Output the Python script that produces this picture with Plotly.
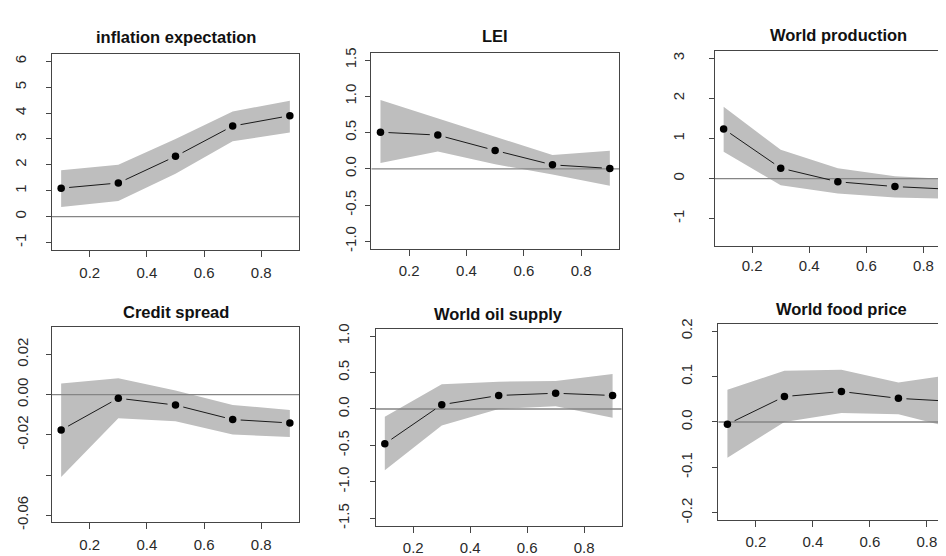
import plotly.graph_objects as go

W, H = 946, 556

# ---------------- data ----------------
tau = [0.1, 0.3, 0.5, 0.7, 0.9]

titles = ["inflation expectation", "LEI", "World production",
          "Credit spread", "World oil supply", "World food price"]

infl_est = [1.10, 1.30, 2.33, 3.50, 3.90]
infl_up = [1.79, 2.00, 3.00, 4.06, 4.48]
infl_lo = [0.37, 0.60, 1.66, 2.91, 3.25]

lei_est = [0.505, 0.465, 0.253, 0.054, 0.005]
lei_up = [0.95, 0.70, 0.45, 0.19, 0.25]
lei_lo = [0.08, 0.24, 0.063, -0.08, -0.235]

wprod_est = [1.24, 0.26, -0.08, -0.20, -0.27]
wprod_up = [1.79, 0.72, 0.26, 0.06, -0.02]
wprod_lo = [0.67, -0.17, -0.37, -0.47, -0.51]

credit_est = [-0.0176, -0.0018, -0.0052, -0.0124, -0.0141]
credit_up = [0.0055, 0.0081, 0.0020, -0.0052, -0.0076]
credit_lo = [-0.0410, -0.0117, -0.0133, -0.0198, -0.0211]

oil_est = [-0.477, 0.059, 0.185, 0.216, 0.185]
oil_up = [-0.108, 0.338, 0.374, 0.383, 0.48]
oil_lo = [-0.84, -0.225, 0.0, 0.036, -0.12]

food_est = [-0.005, 0.056, 0.067, 0.052, 0.045]
food_up = [0.071, 0.113, 0.115, 0.087, 0.105]
food_lo = [-0.079, 0.0, 0.020, 0.017, -0.015]

x_ticks = [0.2, 0.4, 0.6, 0.8]
x_ticklabels = ["0.2", "0.4", "0.6", "0.8"]

yt_infl = [-1, 0, 1, 2, 3, 4, 5, 6]
yl_infl = ["-1", "0", "1", "2", "3", "4", "5", "6"]
yt_lei = [-1.0, -0.5, 0.0, 0.5, 1.0, 1.5]
yl_lei = ["-1.0", "-0.5", "0.0", "0.5", "1.0", "1.5"]
yt_wprod = [-1, 0, 1, 2, 3]
yl_wprod = ["-1", "0", "1", "2", "3"]
yt_credit = [-0.06, -0.04, -0.02, 0.0, 0.02]
yl_credit = ["-0.06", "", "-0.02", "0.00", "0.02"]
yt_oil = [-1.5, -1.0, -0.5, 0.0, 0.5, 1.0]
yl_oil = ["-1.5", "-1.0", "-0.5", "0.0", "0.5", "1.0"]
yt_food = [-0.2, -0.1, 0.0, 0.1, 0.2]
yl_food = ["-0.2", "-0.1", "0.0", "0.1", "0.2"]

# ---------------- layout config (pixel boxes) ----------------
panels = [
    dict(title=titles[0], est=infl_est, up=infl_up, lo=infl_lo, yt=yt_infl, yl=yl_infl,
         box=(44, 291, 42, 242), yr=(-1.28, 6.28), xr=(0.068, 0.932), mirror_y=True,
         ty=25, ystand=14, xstand=3),
    dict(title=titles[1], est=lei_est, up=lei_up, lo=lei_lo, yt=yt_lei, yl=yl_lei,
         box=(363.3, 611, 40.7, 240.7), yr=(-1.1, 1.6), xr=(0.068, 0.932), mirror_y=True,
         ty=24, ystand=3, xstand=2),
    dict(title=titles[2], est=wprod_est, up=wprod_up, lo=wprod_lo, yt=yt_wprod, yl=yl_wprod,
         box=(706.5, 946, 39, 238), yr=(-1.68, 3.18), xr=(0.068, 0.9069), mirror_y=False,
         ty=22, ystand=19, xstand=0),
    dict(title=titles[3], est=credit_est, up=credit_up, lo=credit_lo, yt=yt_credit, yl=yl_credit,
         box=(44, 291, 321, 520.7), yr=(-0.0636, 0.0336), xr=(0.068, 0.932), mirror_y=True,
         ty=306, ystand=12, xstand=3),
    dict(title=titles[4], est=oil_est, up=oil_up, lo=oil_lo, yt=yt_oil, yl=yl_oil,
         box=(367.7, 613.7, 322.7, 524), yr=(-1.6, 1.1), xr=(0.068, 0.932), mirror_y=True,
         ty=308, ystand=15, xstand=2),
    dict(title=titles[5], est=food_est, up=food_up, lo=food_lo, yt=yt_food, yl=yl_food,
         box=(710.3, 946, 317.7, 518.3), yr=(-0.216, 0.216), xr=(0.068, 0.895), mirror_y=False,
         ty=303, ystand=14, xstand=2),
]

BAND = "#BEBEBE"
FRAME = "#454545"
ZERO = "#858585"
TICKFONT = dict(family="Liberation Sans, Arial, sans-serif", size=15, color="#2a2a2a")

fig = go.Figure()
layout = {}
annotations = []


def gapped_segments(xs, ys, xr, yr, wpx, hpx, gap=8.0):
    """R type='b' style: line segments between points, shortened near the points."""
    sx = wpx / (xr[1] - xr[0])
    sy = hpx / (yr[1] - yr[0])
    ox, oy = [], []
    for i in range(len(xs) - 1):
        dx = (xs[i + 1] - xs[i]) * sx
        dy = (ys[i + 1] - ys[i]) * sy
        L = (dx * dx + dy * dy) ** 0.5
        if L <= 2 * gap:
            continue
        f = gap / L
        ox += [xs[i] + f * (xs[i + 1] - xs[i]), xs[i + 1] - f * (xs[i + 1] - xs[i]), None]
        oy += [ys[i] + f * (ys[i + 1] - ys[i]), ys[i + 1] - f * (ys[i + 1] - ys[i]), None]
    return ox, oy


for k, p in enumerate(panels):
    n = k + 1
    xa = "x" if n == 1 else f"x{n}"
    ya = "y" if n == 1 else f"y{n}"
    l, r, t, b = p["box"]
    xd = [l / W, r / W]
    yd = [1 - b / H, 1 - t / H]

    # confidence band
    fig.add_trace(go.Scatter(
        x=tau + tau[::-1], y=p["up"] + p["lo"][::-1],
        fill="toself", fillcolor=BAND, mode="lines", line=dict(width=0, color=BAND),
        hoverinfo="skip", showlegend=False, xaxis=xa, yaxis=ya))
    # zero line across the plot region
    fig.add_trace(go.Scatter(
        x=[p["xr"][0], p["xr"][1]], y=[0, 0], mode="lines",
        line=dict(color=ZERO, width=1.3), hoverinfo="skip", showlegend=False,
        xaxis=xa, yaxis=ya))
    # connecting lines with gaps (type = "b")
    gx, gy = gapped_segments(tau, p["est"], p["xr"], p["yr"], r - l, b - t)
    fig.add_trace(go.Scatter(
        x=gx, y=gy, mode="lines", line=dict(color="#1a1a1a", width=1),
        hoverinfo="skip", showlegend=False, xaxis=xa, yaxis=ya))
    # points
    fig.add_trace(go.Scatter(
        x=tau, y=p["est"], mode="markers",
        marker=dict(color="black", size=7.5, line=dict(width=0)),
        showlegend=False, xaxis=xa, yaxis=ya))

    layout["xaxis" if n == 1 else f"xaxis{n}"] = dict(
        domain=xd, range=list(p["xr"]), anchor=ya,
        showgrid=False, zeroline=False,
        showline=True, linecolor=FRAME, linewidth=1, mirror=True,
        ticks="outside", ticklen=6, tickcolor=FRAME, tickwidth=1,
        tickmode="array", tickvals=x_ticks, ticktext=x_ticklabels,
        tickfont=TICKFONT, ticklabelstandoff=p["xstand"], fixedrange=True)
    layout["yaxis" if n == 1 else f"yaxis{n}"] = dict(
        domain=yd, range=list(p["yr"]), anchor=xa,
        showgrid=False, zeroline=False,
        showline=True, linecolor=FRAME, linewidth=1, mirror=p["mirror_y"],
        ticks="outside", ticklen=5, tickcolor=FRAME, tickwidth=1,
        tickmode="array", tickvals=p["yt"], ticktext=p["yl"],
        tickangle=-90, tickfont=TICKFONT, ticklabelstandoff=p["ystand"],
        fixedrange=True)

    annotations.append(dict(
        text=p["title"], x=(l + r) / 2 / W if n not in (3, 6) else (l + 247 / 2) / W,
        y=1 - p["ty"] / H, xref="paper", yref="paper",
        xanchor="center", yanchor="middle", showarrow=False,
        font=dict(family="Liberation Sans, Arial, sans-serif", size=16.5,
                  color="#111111", weight="bold")))

fig.update_layout(
    width=W, height=H,
    margin=dict(l=0, r=0, t=0, b=0),
    paper_bgcolor="white", plot_bgcolor="white",
    annotations=annotations,
    **layout)

fig.write_html("out.html", config={"displayModeBar": False})
